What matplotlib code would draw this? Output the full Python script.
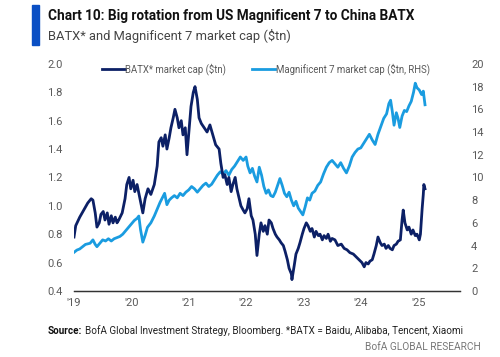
import matplotlib.pyplot as plt
import matplotlib.patches as patches

# BATX* market cap ($tn), left axis
batx_t = [2019.00, 2019.03, 2019.10, 2019.17, 2019.24, 2019.30, 2019.33, 2019.37, 2019.40, 2019.44,
          2019.47, 2019.51, 2019.54, 2019.58, 2019.61, 2019.65, 2019.68, 2019.72, 2019.75, 2019.78,
          2019.84, 2019.89, 2019.92, 2019.96, 2019.99, 2020.03, 2020.06, 2020.10, 2020.15, 2020.20,
          2020.24, 2020.29, 2020.34, 2020.40, 2020.45, 2020.48, 2020.52, 2020.55, 2020.59, 2020.62,
          2020.66, 2020.69, 2020.73, 2020.76, 2020.80, 2020.83, 2020.87, 2020.90, 2020.94, 2020.97,
          2021.01, 2021.04, 2021.08, 2021.11, 2021.15, 2021.18, 2021.22, 2021.27, 2021.32, 2021.37,
          2021.42, 2021.47, 2021.53, 2021.56, 2021.60, 2021.63, 2021.67, 2021.70, 2021.74, 2021.77,
          2021.81, 2021.84, 2021.88, 2021.91, 2021.95, 2021.98, 2022.02, 2022.05, 2022.09, 2022.12,
          2022.16, 2022.19, 2022.23, 2022.26, 2022.30, 2022.33, 2022.37, 2022.40, 2022.44, 2022.47,
          2022.51, 2022.54, 2022.58, 2022.61, 2022.65, 2022.68, 2022.72, 2022.75, 2022.79, 2022.80,
          2022.84, 2022.87, 2022.91, 2022.94, 2022.98, 2023.01, 2023.05, 2023.08, 2023.12, 2023.15,
          2023.19, 2023.22, 2023.26, 2023.29, 2023.33, 2023.36, 2023.40, 2023.43, 2023.47, 2023.50,
          2023.55, 2023.60, 2023.66, 2023.71, 2023.76, 2023.81, 2023.87, 2023.92, 2023.97, 2024.02,
          2024.06, 2024.09, 2024.13, 2024.16, 2024.20, 2024.23, 2024.27, 2024.30, 2024.34, 2024.37,
          2024.41, 2024.44, 2024.48, 2024.51, 2024.55, 2024.58, 2024.62, 2024.65, 2024.69, 2024.72,
          2024.74, 2024.77, 2024.81, 2024.84, 2024.88, 2024.91, 2024.95, 2024.98, 2025.02, 2025.04,
          2025.07, 2025.09, 2025.10, 2025.12]
batx_v = [0.78, 0.86, 0.92, 0.97, 1.02, 1.05, 1.04, 0.95, 0.85, 0.88,
          0.94, 0.96, 0.90, 0.95, 0.87, 0.93, 0.88, 0.92, 0.88, 0.90,
          0.95, 1.05, 1.15, 1.20, 1.12, 1.18, 1.10, 1.15, 1.05, 0.95,
          1.05, 1.12, 1.08, 1.15, 1.28, 1.45, 1.48, 1.42, 1.50, 1.40,
          1.48, 1.55, 1.62, 1.68, 1.62, 1.55, 1.60, 1.50, 1.55, 1.36,
          1.55, 1.70, 1.80, 1.84, 1.75, 1.62, 1.58, 1.55, 1.52, 1.57,
          1.50, 1.43, 1.40, 1.30, 1.20, 1.22, 1.15, 1.20, 1.10, 1.15,
          1.20, 1.12, 1.05, 1.00, 0.97, 0.95, 0.98, 1.05, 0.93, 0.90,
          0.80, 0.65, 0.80, 0.88, 0.82, 0.86, 0.80, 0.90, 0.88, 0.84,
          0.80, 0.78, 0.76, 0.74, 0.72, 0.68, 0.62, 0.56, 0.52, 0.48,
          0.58, 0.66, 0.70, 0.74, 0.80, 0.84, 0.88, 0.86, 0.82, 0.84,
          0.78, 0.82, 0.79, 0.80, 0.76, 0.79, 0.77, 0.80, 0.75, 0.77,
          0.76, 0.72, 0.73, 0.70, 0.69, 0.67, 0.66, 0.64, 0.62, 0.60,
          0.57, 0.60, 0.59, 0.61, 0.62, 0.66, 0.72, 0.78, 0.74, 0.72,
          0.73, 0.70, 0.72, 0.70, 0.69, 0.72, 0.73, 0.75, 0.76, 0.90,
          0.97, 0.88, 0.83, 0.85, 0.80, 0.83, 0.79, 0.80, 0.76, 0.80,
          0.98, 1.08, 1.15, 1.12]

# Magnificent 7 market cap ($tn), right axis
mag7_t = [2019.00, 2019.05, 2019.10, 2019.15, 2019.20, 2019.28, 2019.33, 2019.37, 2019.40, 2019.45,
          2019.50, 2019.55, 2019.60, 2019.65, 2019.70, 2019.75, 2019.80, 2019.85, 2019.90, 2019.95,
          2020.00, 2020.05, 2020.10, 2020.13, 2020.16, 2020.20, 2020.24, 2020.28, 2020.34, 2020.40,
          2020.45, 2020.50, 2020.55, 2020.58, 2020.62, 2020.66, 2020.70, 2020.75, 2020.80, 2020.85,
          2020.90, 2020.95, 2021.00, 2021.05, 2021.10, 2021.15, 2021.20, 2021.25, 2021.30, 2021.35,
          2021.40, 2021.45, 2021.50, 2021.55, 2021.60, 2021.65, 2021.70, 2021.75, 2021.80, 2021.85,
          2021.90, 2021.95, 2022.00, 2022.03, 2022.07, 2022.11, 2022.15, 2022.19, 2022.23, 2022.27,
          2022.31, 2022.35, 2022.39, 2022.43, 2022.47, 2022.51, 2022.55, 2022.59, 2022.63, 2022.67,
          2022.71, 2022.75, 2022.79, 2022.83, 2022.87, 2022.91, 2022.95, 2022.99, 2023.03, 2023.07,
          2023.11, 2023.15, 2023.20, 2023.25, 2023.30, 2023.35, 2023.40, 2023.45, 2023.50, 2023.55,
          2023.60, 2023.65, 2023.70, 2023.75, 2023.80, 2023.85, 2023.90, 2023.95, 2024.00, 2024.05,
          2024.10, 2024.15, 2024.20, 2024.25, 2024.30, 2024.35, 2024.40, 2024.45, 2024.49, 2024.52,
          2024.55, 2024.58, 2024.62, 2024.65, 2024.68, 2024.72, 2024.76, 2024.80, 2024.84, 2024.88,
          2024.92, 2024.95, 2024.98, 2025.02, 2025.06, 2025.09, 2025.12]
mag7_v = [3.4, 3.6, 3.7, 3.9, 4.1, 4.2, 4.5, 4.1, 3.9, 4.2,
          4.5, 4.4, 4.6, 4.4, 4.6, 4.7, 4.8, 5.0, 5.3, 5.6,
          5.9, 6.2, 6.4, 6.6, 5.4, 4.3, 4.9, 5.6, 6.0, 6.6,
          7.2, 7.8, 8.3, 8.6, 7.6, 8.0, 8.2, 8.4, 8.2, 8.6,
          8.4, 8.7, 8.9, 9.2, 9.0, 8.7, 9.0, 9.3, 9.5, 9.2,
          9.4, 9.8, 10.2, 10.5, 10.3, 10.6, 10.2, 10.7, 11.0, 11.4,
          11.8, 11.5, 11.8, 11.0, 10.4, 10.8, 10.1, 9.6, 10.9, 10.2,
          9.2, 8.6, 8.9, 8.4, 8.3, 8.7, 9.3, 9.9, 9.3, 8.6,
          8.3, 8.7, 8.0, 7.5, 7.9, 7.3, 7.0, 6.7, 7.4, 8.2,
          8.0, 8.6, 8.8, 9.3, 9.6, 10.3, 10.9, 11.3, 11.5, 11.2,
          10.9, 11.3, 10.8, 10.4, 11.0, 11.8, 12.2, 12.5, 12.6, 13.0,
          13.4, 13.8, 13.3, 12.9, 13.8, 14.5, 15.2, 15.6, 16.5, 16.8,
          15.8, 14.6, 15.7, 15.2, 14.4, 15.4, 15.9, 15.8, 16.3, 16.7,
          17.5, 18.3, 17.9, 17.7, 17.3, 17.6, 16.4]

year_ticks = [2019, 2020, 2021, 2022, 2023, 2024, 2025]
year_labels = ["'19", "'20", "'21", "'22", "'23", "'24", "'25"]
left_ticks = [0.4, 0.6, 0.8, 1.0, 1.2, 1.4, 1.6, 1.8, 2.0]
right_ticks = [0, 2, 4, 6, 8, 10, 12, 14, 16, 18, 20]

dark = '#0c2066'
light = '#1a9ce0'
grey = '#5a5a5a'

plt.rcParams['font.family'] = ['Roboto', 'DejaVu Sans']

fig = plt.figure(figsize=(5, 3.57), dpi=100)
ax = fig.add_axes([0.148, 0.185, 0.772, 0.636])
ax2 = ax.twinx()

ax2.plot(mag7_t, mag7_v, color=light, lw=2.0, label='Magnificent 7 market cap ($tn, RHS)')
ax.plot(batx_t, batx_v, color=dark, lw=2.0, label='BATX* market cap ($tn)')
ax.set_zorder(ax2.get_zorder() + 1)
ax.patch.set_visible(False)

ax.set_xlim(2019, 2025.73)
ax.set_ylim(0.4, 2.0)
ax2.set_ylim(0, 20)
ax.set_xticks(year_ticks)
ax.set_xticklabels(year_labels)
ax.set_yticks(left_ticks)
ax.set_yticklabels([f'{v:.1f}' for v in left_ticks])
ax2.set_yticks(right_ticks)

for a in (ax, ax2):
    for s in ('top', 'left', 'right'):
        a.spines[s].set_visible(False)
    a.spines['bottom'].set_color('#333333')
    a.spines['bottom'].set_linewidth(0.9)
    a.tick_params(length=0, labelsize=8, labelcolor=grey)
ax.tick_params(axis='y', pad=8)
ax2.tick_params(axis='y', pad=8)
ax.tick_params(axis='x', pad=5)

ax.legend(loc='upper left', bbox_to_anchor=(0.05, 1.04), frameon=False, fontsize=6.9,
          handlelength=2.4, handletextpad=0.05, labelcolor=grey)
ax2.legend(loc='upper left', bbox_to_anchor=(0.44, 1.04), frameon=False, fontsize=6.9,
           handlelength=2.4, handletextpad=0.05, labelcolor=grey)

# title block
fig.patches.append(patches.Rectangle((0.064, 0.874), 0.014, 0.112, transform=fig.transFigure,
                                     color='#0a4fc4', zorder=3))
fig.text(0.096, 0.955, 'Chart 10: Big rotation from US Magnificent 7 to China BATX',
         fontsize=9.8, fontweight='bold', color='#111111', va='center')
fig.text(0.096, 0.900, 'BATX* and Magnificent 7 market cap ($tn)',
         fontsize=9.3, color='#444444', va='center')

fig.text(0.096, 0.073, 'Source:', fontsize=7.1, fontweight='bold', color='#111111', va='center')
fig.text(0.170, 0.073, 'BofA Global Investment Strategy, Bloomberg. *BATX = Baidu, Alibaba, Tencent, Xiaomi',
         fontsize=7.1, color='#222222', va='center')
fig.text(0.962, 0.028, 'BofA GLOBAL RESEARCH', fontsize=7.3, color='#777777', va='center', ha='right')

fig.savefig('out.png', dpi=100)
